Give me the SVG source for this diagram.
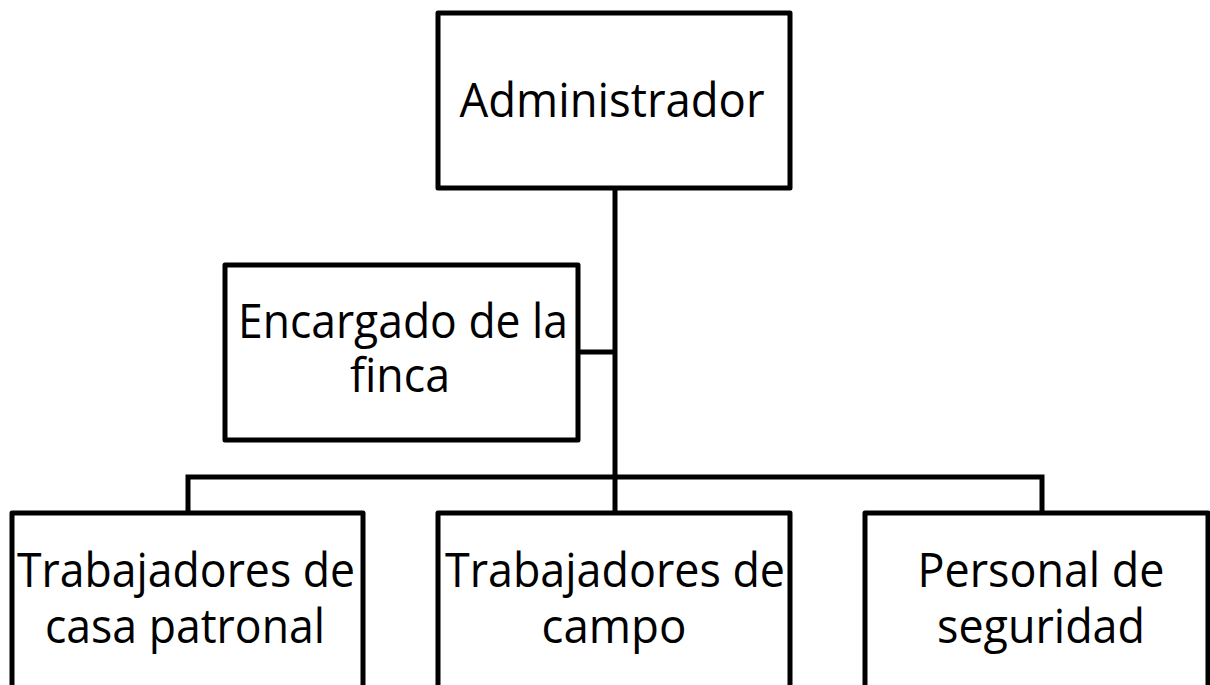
<svg xmlns="http://www.w3.org/2000/svg" width="1210" height="685" viewBox="0 0 1210 685">
<style>
.box{fill:#fff;stroke:#000;stroke-width:5;stroke-linejoin:round}
.lbl{font-family:"Open Sans","Noto Sans",sans-serif;font-size:47px;fill:#000;text-anchor:middle}
.con{fill:none;stroke:#000;stroke-width:5}
</style>
<rect width="1210" height="685" fill="#fff"/>
<g id="connectors">
<path class="con" d="M615 188V477"/>
<path class="con" d="M578 352H615"/>
<path class="con" d="M188 513V477H1042V513"/>
<path class="con" d="M615 477V513"/>
</g>
<g id="admin">
<rect class="box" x="438" y="13" width="352" height="175"/>
<text class="lbl" x="612" y="117" textLength="305" lengthAdjust="spacingAndGlyphs">Administrador</text>
</g>
<g id="encargado">
<rect class="box" x="225" y="265" width="353" height="175"/>
<text class="lbl" x="403" y="338" textLength="330" lengthAdjust="spacingAndGlyphs">Encargado de la</text>
<text class="lbl" x="400" y="392" textLength="100" lengthAdjust="spacingAndGlyphs">finca</text>
</g>
<g id="casa">
<rect class="box" x="12" y="513" width="351" height="200"/>
<text class="lbl" x="186" y="587" textLength="338" lengthAdjust="spacingAndGlyphs">Trabajadores de</text>
<text class="lbl" x="185" y="643" textLength="280" lengthAdjust="spacingAndGlyphs">casa patronal</text>
</g>
<g id="campo">
<rect class="box" x="438" y="513" width="352" height="200"/>
<text class="lbl" x="615" y="587" textLength="340" lengthAdjust="spacingAndGlyphs">Trabajadores de</text>
<text class="lbl" x="614" y="643" textLength="145" lengthAdjust="spacingAndGlyphs">campo</text>
</g>
<g id="seguridad">
<rect class="box" x="865" y="513" width="343" height="200"/>
<text class="lbl" x="1041" y="587" textLength="247" lengthAdjust="spacingAndGlyphs">Personal de</text>
<text class="lbl" x="1041" y="643" textLength="208" lengthAdjust="spacingAndGlyphs">seguridad</text>
</g>
</svg>
